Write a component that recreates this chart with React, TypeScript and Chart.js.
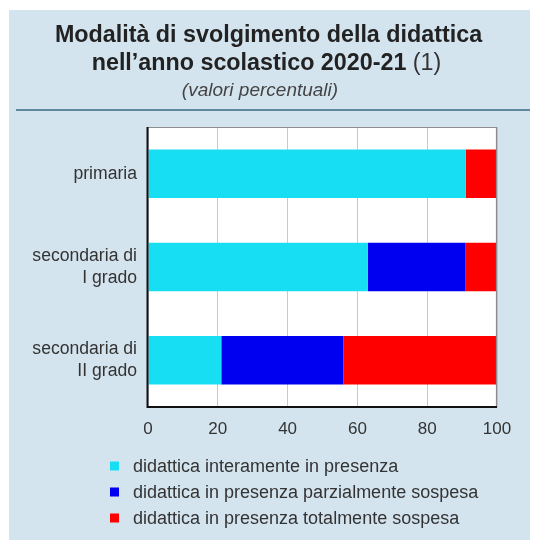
import React, { useEffect, useRef } from "react";
import { Chart, registerables } from "chart.js";

Chart.register(...registerables);

const categories: string[][] = [
  ["primaria"],
  ["secondaria di", "I grado"],
  ["secondaria di", "II grado"],
];
const seriesLabels = [
  "didattica interamente in presenza",
  "didattica in presenza parzialmente sospesa",
  "didattica in presenza totalmente sospesa",
];
const interamente = [91, 63, 21];
const parziale = [0, 28, 35];
const totale = [9, 9, 44];
const xTicks = [0, 20, 40, 60, 80, 100];

const titleLine1 = "Modalità di svolgimento della didattica";
const titleLine2 = "nell’anno scolastico 2020-21";
const titleNote = " (1)";
const subtitle = "(valori percentuali)";

const COLORS = ["#18def4", "#0000f0", "#ff0000"];
const FONT = '"Liberation Sans", Arial, Helvetica, sans-serif';

const decorPlugin = {
  id: "decor",
  beforeDraw(chart: any) {
    const ctx = chart.ctx as CanvasRenderingContext2D;
    ctx.save();
    ctx.fillStyle = "#ffffff";
    ctx.fillRect(0, 0, chart.width, chart.height);
    ctx.fillStyle = "#d4e4ef";
    ctx.fillRect(9, 10, 521, 530);
    const a = chart.chartArea;
    ctx.fillStyle = "#ffffff";
    ctx.fillRect(a.left, a.top, a.right - a.left, a.bottom - a.top);
    ctx.restore();
  },
  afterDraw(chart: any) {
    const ctx = chart.ctx as CanvasRenderingContext2D;
    const a = chart.chartArea;
    ctx.save();
    // frame
    ctx.strokeStyle = "#8c8c8c";
    ctx.lineWidth = 1.2;
    ctx.beginPath();
    ctx.moveTo(a.left, a.top + 0.5);
    ctx.lineTo(a.right - 0.5, a.top + 0.5);
    ctx.lineTo(a.right - 0.5, a.bottom);
    ctx.stroke();
    ctx.strokeStyle = "#111111";
    ctx.lineWidth = 2;
    ctx.beginPath();
    ctx.moveTo(a.left - 0.5, a.top);
    ctx.lineTo(a.left - 0.5, a.bottom);
    ctx.lineTo(a.right, a.bottom);
    ctx.stroke();

    // title
    const cx = 268.5;
    ctx.fillStyle = "#222222";
    ctx.textBaseline = "alphabetic";
    ctx.textAlign = "center";
    ctx.font = `bold 23.3px ${FONT}`;
    ctx.fillText(titleLine1, cx, 42);
    const w1 = ctx.measureText(titleLine2).width;
    ctx.font = `23.3px ${FONT}`;
    const w2 = ctx.measureText(titleNote).width;
    const start = 266.5 - (w1 + w2) / 2;
    ctx.textAlign = "left";
    ctx.font = `bold 23.3px ${FONT}`;
    ctx.fillText(titleLine2, start, 70);
    ctx.font = `23.3px ${FONT}`;
    ctx.fillStyle = "#333333";
    ctx.fillText(titleNote, start + w1, 70);
    ctx.textAlign = "center";
    ctx.fillStyle = "#444444";
    ctx.font = `italic 19px ${FONT}`;
    ctx.fillText(subtitle, 260, 96);

    // separator line
    ctx.strokeStyle = "#3b6985";
    ctx.lineWidth = 1.5;
    ctx.beginPath();
    ctx.moveTo(16, 110);
    ctx.lineTo(530, 110);
    ctx.stroke();

    // legend
    ctx.textAlign = "left";
    ctx.textBaseline = "middle";
    ctx.font = `18px ${FONT}`;
    chart.data.datasets.forEach((ds: any, i: number) => {
      const y = 466 + i * 26;
      ctx.fillStyle = ds.backgroundColor;
      ctx.fillRect(110, y - 4.5, 9, 9);
      ctx.fillStyle = "#333333";
      ctx.fillText(ds.label, 133, y + 1);
    });
    ctx.restore();
  },
};

export default function App() {
  const ref = useRef<HTMLCanvasElement | null>(null);
  useEffect(() => {
    if (!ref.current) return;
    const chart = new Chart(ref.current, {
      type: "bar",
      data: {
        labels: categories as any,
        datasets: [
          { label: seriesLabels[0], data: interamente, backgroundColor: COLORS[0], borderWidth: 0 },
          { label: seriesLabels[1], data: parziale, backgroundColor: COLORS[1], borderWidth: 0 },
          { label: seriesLabels[2], data: totale, backgroundColor: COLORS[2], borderWidth: 0 },
        ],
      },
      options: {
        indexAxis: "y",
        animation: false,
        responsive: false,
        maintainAspectRatio: false,
        devicePixelRatio: 1,
        layout: { padding: { left: 0, top: 127, right: 38, bottom: 0 } },
        datasets: { bar: { categoryPercentage: 1, barPercentage: 0.52 } } as any,
        plugins: {
          legend: { display: false },
          title: { display: false },
          tooltip: { enabled: false },
        },
        scales: {
          x: {
            stacked: true,
            min: 0,
            max: 100,
            afterBuildTicks: (scale: any) => {
              scale.ticks = xTicks.map((v) => ({ value: v }));
            },
            afterFit: (scale: any) => {
              scale.height = 135;
            },
            grid: { color: "#c8c8c8", drawTicks: false, lineWidth: 1 },
            border: { display: false },
            ticks: {
              padding: 12,
              color: "#333333",
              font: { family: FONT, size: 17 },
            },
          },
          y: {
            stacked: true,
            afterFit: (scale: any) => {
              scale.width = 148;
            },
            grid: { display: false, drawTicks: false },
            border: { display: false },
            ticks: {
              padding: 11,
              color: "#333333",
              font: { family: FONT, size: 17.6, lineHeight: 1.27 },
            },
          },
        },
      },
      plugins: [decorPlugin],
    });
    return () => chart.destroy();
  }, []);
  return (
    <div style={{ position: "absolute", left: 0, top: 0, width: 535, height: 542 }}>
      <canvas ref={ref} width={535} height={542} style={{ display: "block", width: 535, height: 542 }} />
    </div>
  );
}
